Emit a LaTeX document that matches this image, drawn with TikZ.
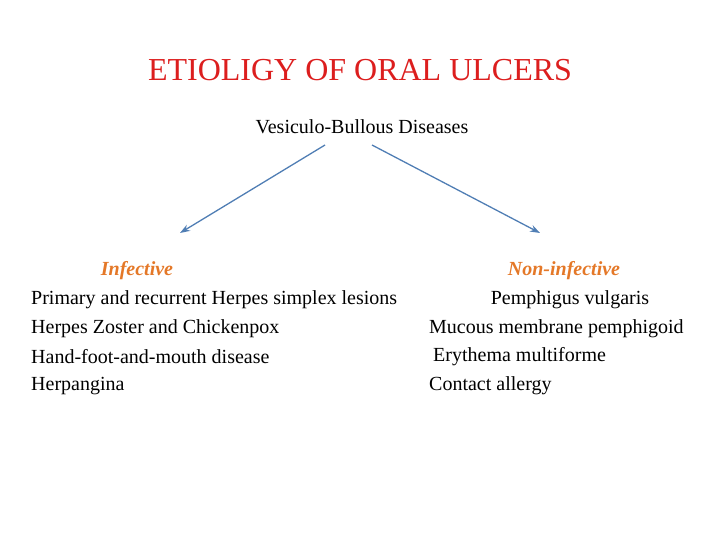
\documentclass[tikz,border=0pt]{standalone}
\usepackage{fontspec}
\setmainfont{Liberation Serif}
\usetikzlibrary{arrows.meta}
\definecolor{ttl}{RGB}{220,30,30}
\definecolor{org}{RGB}{228,120,40}
\definecolor{arr}{RGB}{80,126,180}
\begin{document}
\begin{tikzpicture}[x=1pt,y=-1pt,
  txt/.style={inner sep=0pt,font=\fontsize{20}{24}\selectfont},
  hd/.style={txt,text=org,font=\fontsize{20}{24}\selectfont\bfseries\itshape},
  con/.style={draw=arr,line width=1.3pt,-{Stealth[length=10pt,width=7pt]}}]
\useasboundingbox (0,0) rectangle (720,540);
\node[inner sep=0pt,text=ttl,font=\fontsize{32}{36}\selectfont] (t) at (360,70) {ETIOLIGY OF ORAL ULCERS};
\node[txt] (s) at (362,127) {Vesiculo-Bullous Diseases};
\coordinate (a1) at (325,145); \coordinate (b1) at (372,145);
\node[hd] (inf) at (137,271) {Infective};
\node[hd] (non) at (564,271) {Non-infective};
\coordinate (ea) at (180,233); \coordinate (eb) at (540,233);
\draw[con] (a1) -- (ea);
\draw[con] (b1) -- (eb);
\node[txt,anchor=west] (l1) at (31,300) {Primary and recurrent Herpes simplex lesions};
\node[txt,anchor=west] (l2) at (31,329) {Herpes Zoster and Chickenpox};
\node[txt,anchor=west] (l3) at (31,357) {Hand-foot-and-mouth disease};
\node[txt,anchor=west] (l4) at (31,386) {Herpangina};
\node[txt] (r1) at (570,300) {Pemphigus vulgaris};
\node[txt,anchor=west] (r2) at (429,329) {Mucous membrane pemphigoid};
\node[txt,anchor=west] (r3) at (433,357) {Erythema multiforme};
\node[txt,anchor=west] (r4) at (429,386) {Contact allergy};
\end{tikzpicture}
\end{document}
